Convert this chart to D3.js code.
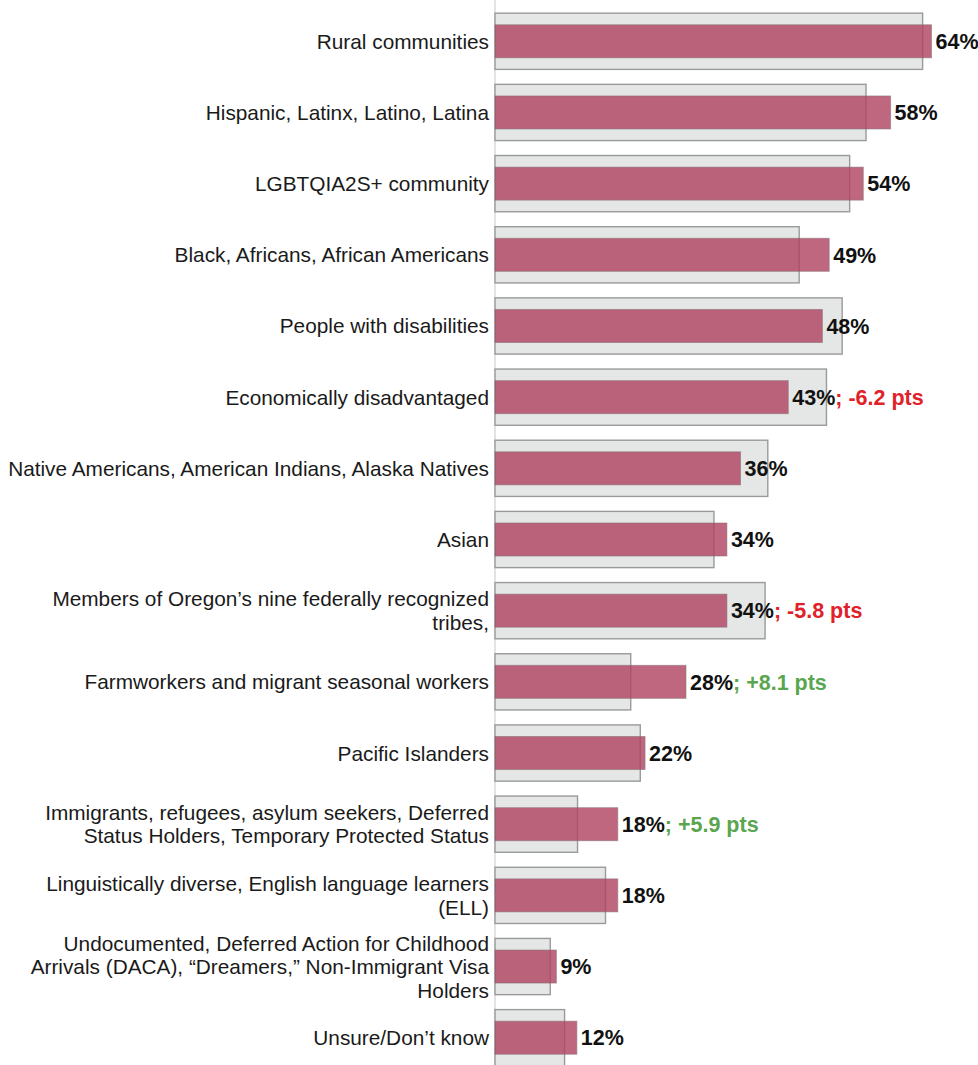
<!DOCTYPE html>
<html>
<head>
<meta charset="utf-8">
<script src="https://cdn.jsdelivr.net/npm/d3@7"></script>
<style>
  html, body { margin: 0; padding: 0; background: #fff; }
  svg { display: block; }
  text { font-family: "Liberation Sans", Arial, Helvetica, sans-serif; }
</style>
</head>
<body>
<svg id="chart" width="978" height="1065"></svg>
<script>
// Communities (line breaks as they wrap in the label column)
const categories = [
  "Rural communities",
  "Hispanic, Latinx, Latino, Latina",
  "LGBTQIA2S+ community",
  "Black, Africans, African Americans",
  "People with disabilities",
  "Economically disadvantaged",
  "Native Americans, American Indians, Alaska Natives",
  "Asian",
  "Members of Oregon’s nine federally recognized\ntribes,",
  "Farmworkers and migrant seasonal workers",
  "Pacific Islanders",
  "Immigrants, refugees, asylum seekers, Deferred\nStatus Holders, Temporary Protected Status",
  "Linguistically diverse, English language learners\n(ELL)",
  "Undocumented, Deferred Action for Childhood\nArrivals (DACA), “Dreamers,” Non-Immigrant Visa\nHolders",
  "Unsure/Don’t know"
];

// Current year share (%)
const currentValues = [64, 58, 54, 49, 48, 43, 36, 34, 34, 28, 22, 18, 18, 9, 12];

// Prior year share (%), drawn as the wider grey bar behind
const priorValues = [62.7, 54.4, 52.0, 44.6, 50.9, 48.6, 40.0, 32.1, 39.6, 19.9, 21.3, 12.1, 16.2, 8.1, 10.2];

// Notable changes in percentage points
const changeLabels = [null, null, null, null, null, "; -6.2 pts", null, null, "; -5.8 pts", "; +8.1 pts", null, "; +5.9 pts", null, null, null];

const svg = d3.select("#chart");
const x0 = 495;

const x = d3.scaleLinear().domain([0, 64]).range([x0, 931.5]);
const y = d3.scaleBand()
  .domain(categories)
  .range([5.7, 1073.3])
  .paddingInner(0.21)
  .paddingOuter(0.105);

const rows = categories.map((c, i) => ({
  cat: c, cur: currentValues[i], prior: priorValues[i], change: changeLabels[i]
}));

// baseline
svg.append("line")
  .attr("x1", x0).attr("x2", x0)
  .attr("y1", 0).attr("y2", 1065)
  .attr("stroke", "#d0d0d0").attr("stroke-width", 1.2);

// prior-year bars
svg.append("g").selectAll("rect")
  .data(rows).join("rect")
  .attr("x", x(0))
  .attr("y", d => y(d.cat))
  .attr("width", d => x(d.prior) - x(0))
  .attr("height", y.bandwidth())
  .attr("fill", "#e5e6e6")
  .attr("stroke", "#9a9a9a")
  .attr("stroke-width", 1.4);

// current-year bars
const redH = 33;
svg.append("g").selectAll("rect")
  .data(rows).join("rect")
  .attr("x", x(0))
  .attr("y", d => y(d.cat) + y.bandwidth() / 2 - redH / 2)
  .attr("width", d => x(d.cur) - x(0))
  .attr("height", redH)
  .attr("fill", "rgb(176,65,96)")
  .attr("fill-opacity", 0.8)
  .attr("stroke", "rgba(130,110,115,0.55)")
  .attr("stroke-width", 1);

// category labels
const lineH = 23.5;
const catG = svg.append("g");
rows.forEach(d => {
  const lines = d.cat.split("\n");
  const cy = y(d.cat) + y.bandwidth() / 2;
  const t = catG.append("text")
    .attr("text-anchor", "end")
    .attr("font-size", 20.8)
    .attr("fill", "#1a1a1a");
  lines.forEach((ln, j) => {
    t.append("tspan")
      .attr("x", 489)
      .attr("y", cy + (j - (lines.length - 1) / 2) * lineH)
      .attr("dy", "0.36em")
      .text(ln);
  });
});

// value labels with optional change notes
const valG = svg.append("g");
rows.forEach(d => {
  const t = valG.append("text")
    .attr("x", x(d.cur) + 4)
    .attr("y", y(d.cat) + y.bandwidth() / 2)
    .attr("dy", "0.36em")
    .attr("font-size", 21.5)
    .attr("font-weight", "bold");
  t.append("tspan").attr("fill", "#111").text(d.cur + "%");
  if (d.change) {
    t.append("tspan")
      .attr("fill", d.change.includes("-") ? "#e0212a" : "#5aa64f")
      .text(d.change);
  }
});
</script>
</body>
</html>
